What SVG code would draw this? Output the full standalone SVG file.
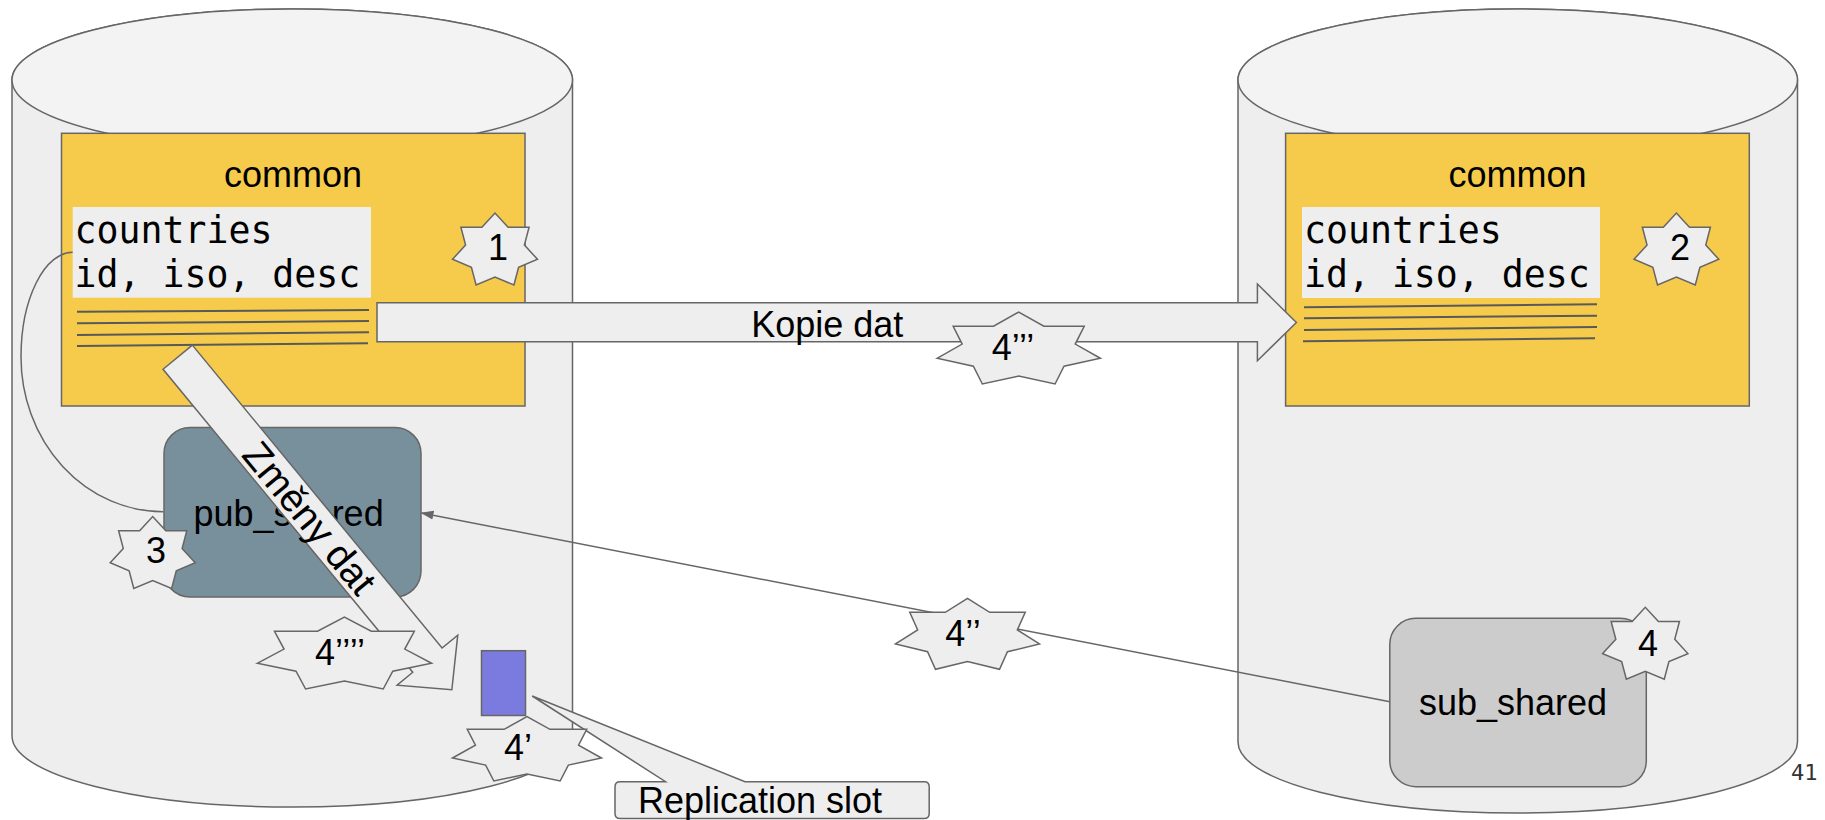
<svg xmlns="http://www.w3.org/2000/svg" xmlns:xlink="http://www.w3.org/1999/xlink" width="1825" height="820" viewBox="0 0 1825 820">
<style>
.ln{stroke:#666666;stroke-width:1.5}
.body{fill:#eeeeee;stroke:#666666;stroke-width:1.5}
.top{fill:#f3f3f3;stroke:#666666;stroke-width:1.5}
.yel{fill:#f6cb4b;stroke:#666666;stroke-width:1.5}
.tbl{fill:#eeeeee}
.row{stroke:#595959;stroke-width:2}
.blk{fill:#eeeeee;stroke:#666666;stroke-width:1.5}
.star{fill:#eeeeee;stroke:#666666;stroke-width:1.5}
.t{font-family:"Liberation Sans",Arial,sans-serif;font-size:36px;fill:#000000}
.c{text-anchor:middle}
.mono{font-family:"DejaVu Sans Mono","Liberation Mono",monospace;font-size:36.5px;fill:#000000}
</style>
<defs>
<path id="star7" vector-effect="non-scaling-stroke" d="M-1,0.2862 L-0.692,-0.1099 L-0.8019,-0.6039 L-0.308,-0.6039 L0,-1 L0.308,-0.6039 L0.8019,-0.6039 L0.692,-0.1099 L1,0.2862 L0.5549,0.506 L0.445,1 L0,0.7802 L-0.445,1 L-0.5549,0.506 Z"/>
<marker id="ah" markerWidth="13" markerHeight="10" refX="12" refY="5" orient="auto" markerUnits="userSpaceOnUse">
<path d="M0,0.5 L13,5 L0,9.5 Z" fill="#666666"/>
</marker>
</defs>
<rect width="1825" height="820" fill="#ffffff"/>

<g id="db-left">
<path class="body" d="M12,80 L12,736 A280.25,71 0 0 0 572.5,736 L572.5,80 A280.25,71 0 0 0 12,80 Z"/>
<ellipse class="top" cx="292.25" cy="80" rx="280.25" ry="71"/>
</g>
<g id="db-right">
<path class="body" d="M1238,80 L1238,742 A279.75,71 0 0 0 1797.5,742 L1797.5,80 A279.75,71 0 0 0 1238,80 Z"/>
<ellipse class="top" cx="1517.75" cy="80" rx="279.75" ry="71"/>
</g>

<g id="schema-left">
<rect class="yel" x="61.5" y="133.3" width="463.5" height="272.7"/>
<text class="t c" x="293" y="187">common</text>
</g>
<g id="table-left">
<rect class="tbl" x="72.7" y="207" width="298.3" height="90.7"/>
<text class="mono" x="74.6" y="243.3">countries</text>
<text class="mono" x="74.6" y="287.3">id, iso, desc</text>
<line class="row" x1="77" y1="311.7" x2="369" y2="310"/>
<line class="row" x1="77" y1="323.3" x2="369" y2="321"/>
<line class="row" x1="77" y1="335" x2="369" y2="332.3"/>
<line class="row" x1="77" y1="346" x2="368" y2="343.3"/>
</g>

<g id="schema-right">
<rect class="yel" x="1285.6" y="133.3" width="463.7" height="272.7"/>
<text class="t c" x="1517.5" y="187">common</text>
</g>
<g id="table-right">
<rect class="tbl" x="1302" y="207" width="298" height="91"/>
<text class="mono" x="1304" y="243.3">countries</text>
<text class="mono" x="1304" y="287.3">id, iso, desc</text>
<line class="row" x1="1304" y1="307.3" x2="1597" y2="304.3"/>
<line class="row" x1="1304" y1="318.3" x2="1597" y2="315.7"/>
<line class="row" x1="1304" y1="330" x2="1597" y2="327"/>
<line class="row" x1="1303" y1="341.3" x2="1595" y2="338.3"/>
</g>

<g id="pub_shared">
<rect x="164" y="427.5" width="257" height="169.5" rx="26" ry="26" fill="#78909c" stroke="#666666" stroke-width="1.5"/>
<text class="t c" x="288.6" y="526">pub_shared</text>
</g>

<g id="sub_shared">
<rect x="1389.8" y="618.3" width="256.5" height="168.4" rx="26" ry="26" fill="#cccccc" stroke="#666666" stroke-width="1.5"/>
<text class="t c" x="1513" y="715">sub_shared</text>
</g>

<g id="slot">
<rect x="481.5" y="650.7" width="44" height="64.8" fill="#7b7bdf" stroke="#666666" stroke-width="1.5"/>
</g>

<g id="callout">
<path class="blk" d="M620,781.7 L665.5,781.7 L532.2,696 L745,781.7 L924.2,781.7 Q929.2,781.7 929.2,786.7 L929.2,813.5 Q929.2,818.5 924.2,818.5 L620,818.5 Q615,818.5 615,813.5 L615,786.7 Q615,781.7 620,781.7 Z"/>
<text class="t c" x="760" y="813.3">Replication slot</text>
</g>

<g id="connectors">
<path class="ln" fill="none" d="M72.7,252.3 A51.7,104.7 0 0 0 21,357 A142.3,154.7 0 0 0 163.3,511.7"/>
<line class="ln" x1="1389.8" y1="701.7" x2="421.5" y2="512.9" marker-end="url(#ah)"/>
<g id="kopie">
<polygon class="blk" points="377,302.7 1257.4,302.7 1257.4,284 1296.4,322.5 1257.4,360.7 1257.4,341.7 377,341.7"/>
<text class="t c" x="827.3" y="337.3">Kopie dat</text>
</g>
<g id="zmeny" transform="translate(177.7,357.2) rotate(50.5)">
<polygon class="blk" points="0,-19 392.6,-19 392.6,-39.3 431,0 392.6,39.3 392.6,19 0,19"/>
<text class="t c" x="208" y="14" style="font-size:39px">Změny dat</text>
</g>
</g>

<g id="star-1">
<use href="#star7" class="star" transform="translate(495,249) scale(42.5,36)"/>
<text class="t c" x="498" y="260">1</text>
</g>
<g id="star-2">
<use href="#star7" class="star" transform="translate(1676.4,249) scale(42.4,36)"/>
<text class="t c" x="1680" y="260">2</text>
</g>
<g id="star-3">
<use href="#star7" class="star" transform="translate(152.7,552.5) scale(42.5,36)"/>
<text class="t c" x="156" y="563">3</text>
</g>
<g id="star-4-4q">
<use href="#star7" class="star" transform="translate(344.4,653) scale(87.2,36)"/>
<text class="t c" x="340" y="665">4’’’’</text>
</g>
<g id="star-4-1q">
<use href="#star7" class="star" transform="translate(527,748.8) scale(74.5,32.2)"/>
<text class="t c" x="518" y="760">4’</text>
</g>
<g id="star-4-3q">
<use href="#star7" class="star" transform="translate(1018.7,348) scale(81.7,36)"/>
<text class="t c" x="1013" y="360">4’’’</text>
</g>
<g id="star-4-2q">
<use href="#star7" class="star" transform="translate(967.5,633.8) scale(72,35.5)"/>
<text class="t c" x="963" y="646">4’’</text>
</g>
<g id="star-4">
<use href="#star7" class="star" transform="translate(1645.3,643.3) scale(42.6,36)"/>
<text class="t c" x="1648" y="656">4</text>
</g>

<text x="1791" y="780" font-family="DejaVu Sans Mono,Liberation Mono,monospace" font-size="22" fill="#333333">41</text>
</svg>
